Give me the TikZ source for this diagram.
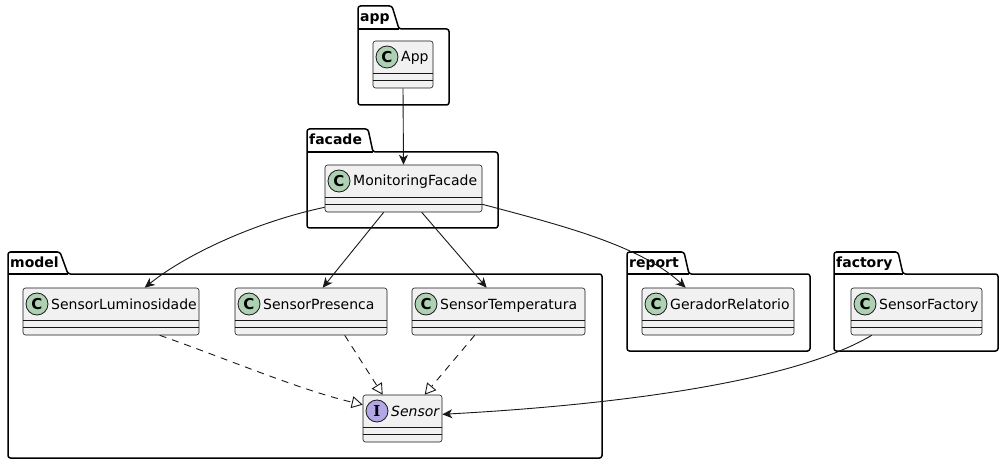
\documentclass[tikz,border=0pt]{standalone}
\usepackage{fontspec}
\setmainfont{DejaVu Sans}
\newfontfamily\iconserif{DejaVu Serif}
\usetikzlibrary{arrows.meta,fit,calc}
\definecolor{umlline}{HTML}{181818}
\definecolor{classfill}{HTML}{F1F1F1}
\definecolor{cicon}{HTML}{ADD1B2}
\definecolor{iicon}{HTML}{B4A7E5}
\tikzset{
  classbox/.style={draw=umlline, line width=0.6pt, fill=classfill, rounded corners=2.5pt, inner sep=0pt},
  sepline/.style={draw=umlline, line width=0.6pt},
  iconc/.style={circle, draw=umlline, line width=0.8pt, minimum size=22pt, inner sep=0pt, font=\fontsize{15}{15}\selectfont\bfseries},
  classname/.style={inner sep=0pt, font=\fontsize{14}{14}\selectfont, text=black},
  pkgline/.style={draw=black, line width=1.5pt, rounded corners=2.5pt},
  pkglabel/.style={inner sep=0pt, font=\fontsize{14}{14}\selectfont\bfseries},
  assoc/.style={draw=umlline, line width=0.9pt, -{Stealth[length=10pt,width=9pt,inset=3pt]}},
  realize/.style={draw=umlline, line width=0.9pt, dash pattern=on 7pt off 6pt,
     -{Triangle[open,length=11pt,width=12pt,fill=white]}}
}
\newcommand\mkclass[8]{%
  \path (#2,#3) coordinate (#1-nw) (#4,#5) coordinate (#1-se);
  \node[classbox, fit=(#1-nw)(#1-se)] (#1) {};
  \draw[sepline] (#2,{#3+32}) -- (#4,{#3+32});
  \draw[sepline] (#2,{#3+39}) -- (#4,{#3+39});
  \node[iconc, fill=#7] (#1-icon) at ({#2+14},{#3+16}) {#6};
  \node[classname, anchor=base west] (#1-name) at ({#2+28},{#3+21}) {#8};
}
\newcommand\mkpkg[9]{%
  \draw[pkgline] (#1,#5) -- (#1,#2) -- (#3,#2) -- (#4,#5) -- (#6,#5) -- (#6,#7) -- (#1,#7) -- cycle;
  \draw[pkgline] (#1,#5) -- (#4,#5);
  \node[pkglabel, anchor=base west] (#9) at ({#1+2},{#2+16}) {#8};
}
\begin{document}
\begin{tikzpicture}[x=1pt,y=-1pt]
\useasboundingbox[fill=white] (0,0) rectangle (1004,465);
% packages
\mkpkg{358}{6}{392}{399}{29}{449}{105}{app}{pkgapp}
\mkpkg{307}{129}{368}{373}{152}{498}{228}{facade}{pkgfacade}
\mkpkg{8}{252}{60}{68}{274}{602}{458}{model}{pkgmodel}
\mkpkg{627}{252}{684}{689}{274}{810}{351}{report}{pkgreport}
\mkpkg{834}{252}{898}{903}{274}{998}{351}{factory}{pkgfactory}
% classes
\mkclass{app}{373}{41}{433}{88}{C}{cicon}{App}
\mkclass{fac}{325}{165}{482}{212}{C}{cicon}{MonitoringFacade}
\mkclass{lum}{23}{288}{199}{335}{C}{cicon}{SensorLuminosidade}
\mkclass{pres}{235}{288}{387}{335}{C}{cicon}{SensorPresenca}
\mkclass{temp}{412}{288}{585}{335}{C}{cicon}{SensorTemperatura}
\mkclass{ger}{642}{288}{794}{335}{C}{cicon}{GeradorRelatorio}
\mkclass{fact}{851}{288}{982}{335}{C}{cicon}{SensorFactory}
\mkclass{sensor}{363}{395}{442}{442}{{\iconserif I}}{iicon}{\itshape Sensor}
% associations
\draw[assoc] (app.south) -- (fac.north);
\draw[assoc] ($(fac.south west)+(0,-5)$) .. controls (255,222) and (185,255) .. ($(lum.north west)+(122,0)$);
\draw[assoc] ($(fac.south west)+(59,0)$) -- ($(pres.north west)+(88,0)$);
\draw[assoc] ($(fac.south west)+(97,0)$) -- ($(temp.north west)+(75,0)$);
\draw[assoc] ($(fac.south east)+(0,-8)$) .. controls (560,225) and (640,245) .. ($(ger.north west)+(44,0)$);
\draw[assoc] ($(fact.south west)+(21,0)$) .. controls (780,390) and (560,408) .. ($(sensor.south east)+(0,-28)$);
% realizations
\draw[realize] ($(lum.south west)+(137,0)$) .. controls (230,360) and (300,390) .. ($(sensor.north west)+(0,10)$);
\draw[realize] ($(pres.south west)+(110,0)$) -- ($(sensor.north west)+(20,0)$);
\draw[realize] ($(temp.south west)+(63,0)$) -- ($(sensor.north west)+(62,0)$);
\end{tikzpicture}
\end{document}
